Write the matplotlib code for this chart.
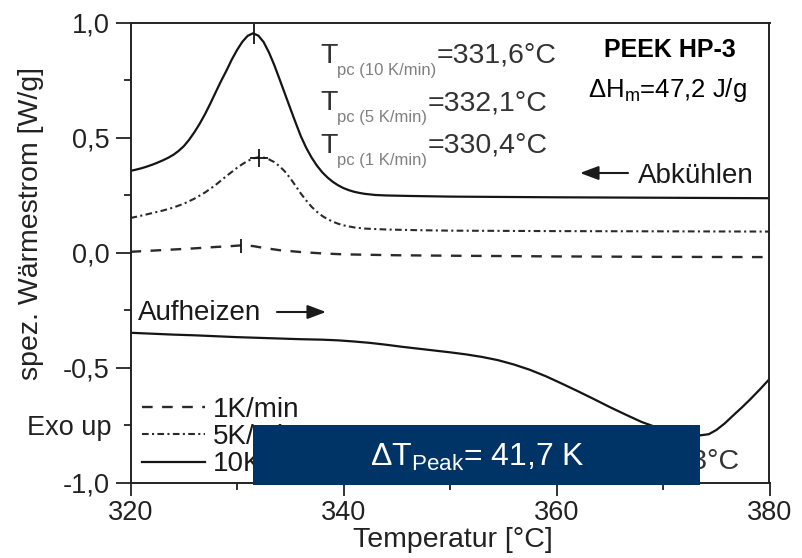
import matplotlib
matplotlib.use('Agg')
import matplotlib.pyplot as plt
from matplotlib.patches import Rectangle

plt.rcParams['font.family'] = ['Liberation Sans', 'DejaVu Sans']
plt.rcParams['mathtext.fontset'] = 'custom'
plt.rcParams['mathtext.rm'] = 'Liberation Sans'
plt.rcParams['mathtext.it'] = 'Liberation Sans:italic'
plt.rcParams['mathtext.bf'] = 'Liberation Sans:bold'

# ---------------- data ----------------
T_cool10 = [320.0, 320.5, 321.0, 321.5, 322.0, 322.5, 323.0, 323.5, 324.0, 324.5, 325.0, 325.5,
            326.0, 326.5, 327.0, 327.5, 328.0, 328.5, 329.0, 329.5, 330.0, 330.5, 331.0, 331.5,
            332.0, 332.5, 333.0, 333.5, 334.0, 334.5, 335.0, 335.5, 336.0, 336.5, 337.0, 337.5,
            338.0, 338.5, 339.0, 339.5, 340.0, 340.5, 341.0, 341.5, 342.0, 343.0, 344.0, 346.0,
            350.0, 360.0, 370.0, 380.0]
v_cool10 = [0.355, 0.360, 0.366, 0.373, 0.381, 0.390, 0.400, 0.411, 0.424, 0.441, 0.462, 0.490,
            0.523, 0.560, 0.602, 0.648, 0.697, 0.745, 0.790, 0.838, 0.880, 0.916, 0.942, 0.953,
            0.943, 0.915, 0.870, 0.815, 0.753, 0.690, 0.627, 0.565, 0.505, 0.455, 0.413, 0.378,
            0.349, 0.326, 0.307, 0.292, 0.280, 0.271, 0.264, 0.259, 0.255, 0.250, 0.248, 0.246,
            0.243, 0.240, 0.238, 0.236]

T_cool5 = [320.0, 321.0, 322.0, 323.0, 324.0, 325.0, 326.0, 327.0, 328.0, 329.0, 330.0, 330.5,
           331.0, 331.5, 332.0, 332.5, 333.0, 333.5, 334.0, 334.5, 335.0, 335.5, 336.0, 336.5,
           337.0, 337.5, 338.0, 338.5, 339.0, 339.5, 340.0, 341.0, 342.0, 344.0, 347.0, 350.0,
           360.0, 370.0, 380.0]
v_cool5 = [0.150, 0.160, 0.171, 0.182, 0.195, 0.212, 0.234, 0.261, 0.294, 0.332, 0.368, 0.384,
           0.398, 0.409, 0.414, 0.413, 0.405, 0.393, 0.375, 0.352, 0.323, 0.290, 0.256, 0.226,
           0.199, 0.177, 0.159, 0.145, 0.134, 0.125, 0.118, 0.109, 0.104, 0.100, 0.097, 0.095,
           0.093, 0.092, 0.091]

T_cool1 = [320.0, 322.0, 324.0, 326.0, 328.0, 329.5, 330.4, 331.5, 332.5, 334.0, 336.0, 338.0,
           340.0, 345.0, 350.0, 360.0, 370.0, 380.0]
v_cool1 = [0.003, 0.008, 0.013, 0.018, 0.024, 0.028, 0.031, 0.028, 0.020, 0.010, 0.002, -0.004,
           -0.008, -0.012, -0.014, -0.017, -0.019, -0.020]

T_heat10 = [320.0, 322.0, 324.0, 326.0, 328.0, 330.0, 332.0, 334.0, 336.0, 338.0, 339.5, 341.0,
            342.5, 344.0, 345.5, 347.0, 348.5, 350.0, 351.5, 353.0, 354.5, 356.0, 357.5, 359.0,
            360.5, 362.0, 363.5, 365.0, 366.5, 368.0, 369.5, 371.0, 372.5, 373.5, 374.3, 375.0,
            375.8, 376.6, 377.4, 378.2, 379.1, 380.0]
v_heat10 = [-0.349, -0.353, -0.357, -0.360, -0.364, -0.368, -0.371, -0.374, -0.377, -0.379,
            -0.382, -0.387, -0.393, -0.401, -0.410, -0.418, -0.426, -0.434, -0.443, -0.454,
            -0.468, -0.487, -0.510, -0.538, -0.570, -0.603, -0.637, -0.672, -0.705, -0.737,
            -0.762, -0.781, -0.792, -0.795, -0.790, -0.772, -0.743, -0.708, -0.674, -0.638,
            -0.595, -0.550]

peak_T = [331.6, 332.1, 330.4]
peak_v = [0.950, 0.412, 0.030]

legend_labels = ['1K/min', '5K/min', '10K/min']
xticks = [320, 340, 360, 380]
xticks_minor = [330, 350, 370]
yticks = [1.0, 0.5, 0.0, -0.5, -1.0]
ytick_labels = ['1,0', '0,5', '0,0', '-0,5', '-1,0']
yticks_minor = [0.75, 0.25, -0.25, -0.75]
ytick_minor_labels = ['', '', '', 'Exo up']

tpc_rows = [('pc (10 K/min)', '=331,6°C'),
            ('pc (5 K/min)', '=332,1°C'),
            ('pc (1 K/min)', '=330,4°C')]

# ---------------- figure ----------------
W, H = 803, 558
fig = plt.figure(figsize=(W / 100, H / 100), dpi=100)
fig.patch.set_facecolor('white')


def fx(x):
    return x / W


def fy(y):
    return 1 - y / H


ax = fig.add_axes([fx(130.5), fy(482.5), (769.5 - 130.5) / W, (482.5 - 22.5) / H])

lc = '#151515'
l1, = ax.plot(T_cool1, v_cool1, color='#2a2a2a', lw=1.7, ls=(0, (4.5, 4.0)))
l5, = ax.plot(T_cool5, v_cool5, color='#2a2a2a', lw=1.5, ls=(0, (3.2, 1.6, 1.0, 1.6)))
l10, = ax.plot(T_cool10, v_cool10, color=lc, lw=1.6)
ax.plot(T_heat10, v_heat10, color=lc, lw=1.6)

# peak marks
ax.plot([peak_T[0]], [peak_v[0]], marker='|', ms=14, mew=1.3, color=lc)
ax.plot([peak_T[1]], [peak_v[1]], marker='+', ms=13, mew=1.3, color=lc)
ax.plot([peak_T[2]], [peak_v[2]], marker='|', ms=9.5, mew=1.3, color=lc)

ax.set_xlim(320, 380)
ax.set_ylim(-1.0, 1.0)

for s in ax.spines.values():
    s.set_color('#222222')
    s.set_linewidth(1.4)

ax.set_xticks(xticks)
ax.set_xticks(xticks_minor, minor=True)
ax.set_yticks(yticks, labels=ytick_labels)
ax.set_yticks(yticks_minor, labels=ytick_minor_labels, minor=True)

ax.tick_params(which='both', direction='out', labelsize=19.5, colors='#222222', width=1.3)
ax.tick_params(axis='y', which='major', length=11, pad=4)
ax.tick_params(axis='y', which='minor', length=5, pad=8.5)
ax.tick_params(axis='x', which='major', length=9.5, pad=3)
ax.tick_params(axis='x', which='minor', length=5)

ax.set_xlabel('Temperatur [°C]', fontsize=20.5, color='#222222')
ax.xaxis.set_label_coords(0.504, -0.097)
ax.set_ylabel('spez. Wärmestrom [W/g]', fontsize=20.5, color='#222222')
ax.yaxis.set_label_coords(-0.1354, 0.564)

leg = ax.legend([l1, l5, l10], legend_labels, loc='upper left',
                bbox_to_anchor=(fx(142), fy(397)), bbox_transform=fig.transFigure,
                frameon=False, fontsize=20, handlelength=2.25, handletextpad=0.3,
                labelspacing=0.04, borderpad=0, borderaxespad=0)
for t in leg.get_texts():
    t.set_color('#1a1a1a')

# ---------------- annotations ----------------
renderer = fig.canvas.get_renderer()


def chain(x, y, parts):
    for s, size, color, dy in parts:
        t = fig.text(fx(x), fy(y + dy), s, fontsize=size, color=color,
                     ha='left', va='baseline', zorder=3)
        bb = t.get_window_extent(renderer)
        x += bb.width


baselines = [63, 110, 153]
for (sub, val), b in zip(tpc_rows, baselines):
    chain(320, b, [('T', 20.5, '#333333', 0), (sub, 12, '#808080', 12), (val, 20.5, '#333333', 0)])

fig.text(fx(670), fy(57), 'PEEK HP-3', fontsize=18, fontweight='bold', color='black',
         ha='center', va='baseline')
fig.text(fx(667), fy(97), 'ΔH$_{\\rm m}$=47,2 J/g', fontsize=18.5, color='black',
         ha='center', va='baseline')

fig.text(fx(638), fy(183), 'Abkühlen', fontsize=20, color='#1a1a1a', ha='left', va='baseline')
ax.annotate('', xy=(fx(580), fy(173)), xytext=(fx(628), fy(173)), xycoords='figure fraction',
            textcoords='figure fraction',
            arrowprops=dict(arrowstyle='-|>,head_length=0.8,head_width=0.3', color='#1a1a1a',
                            lw=1.5, mutation_scale=14, shrinkA=0, shrinkB=0))

fig.text(fx(138), fy(320), 'Aufheizen', fontsize=20, color='#1a1a1a', ha='left', va='baseline')
ax.annotate('', xy=(fx(326), fy(312)), xytext=(fx(277), fy(312)), xycoords='figure fraction',
            textcoords='figure fraction',
            arrowprops=dict(arrowstyle='-|>,head_length=0.8,head_width=0.3', color='#1a1a1a',
                            lw=1.5, mutation_scale=14, shrinkA=0, shrinkB=0))

# partly hidden peak temperature text (behind the box)
fig.text(fx(740), fy(468), '=373,3°C', fontsize=20.5, color='#333333', ha='right',
         va='baseline', zorder=3)

# dark blue box
box = Rectangle((fx(253), fy(485)), (700 - 253) / W, (485 - 425) / H,
                transform=fig.transFigure, facecolor='#003366', edgecolor='none', zorder=10)
fig.add_artist(box)
fig.text(fx(477), fy(466), 'ΔT$_{\\rm Peak}$= 41,7 K', fontsize=23, color='white',
         ha='center', va='baseline', zorder=11)

fig.savefig('out.png', dpi=100)
